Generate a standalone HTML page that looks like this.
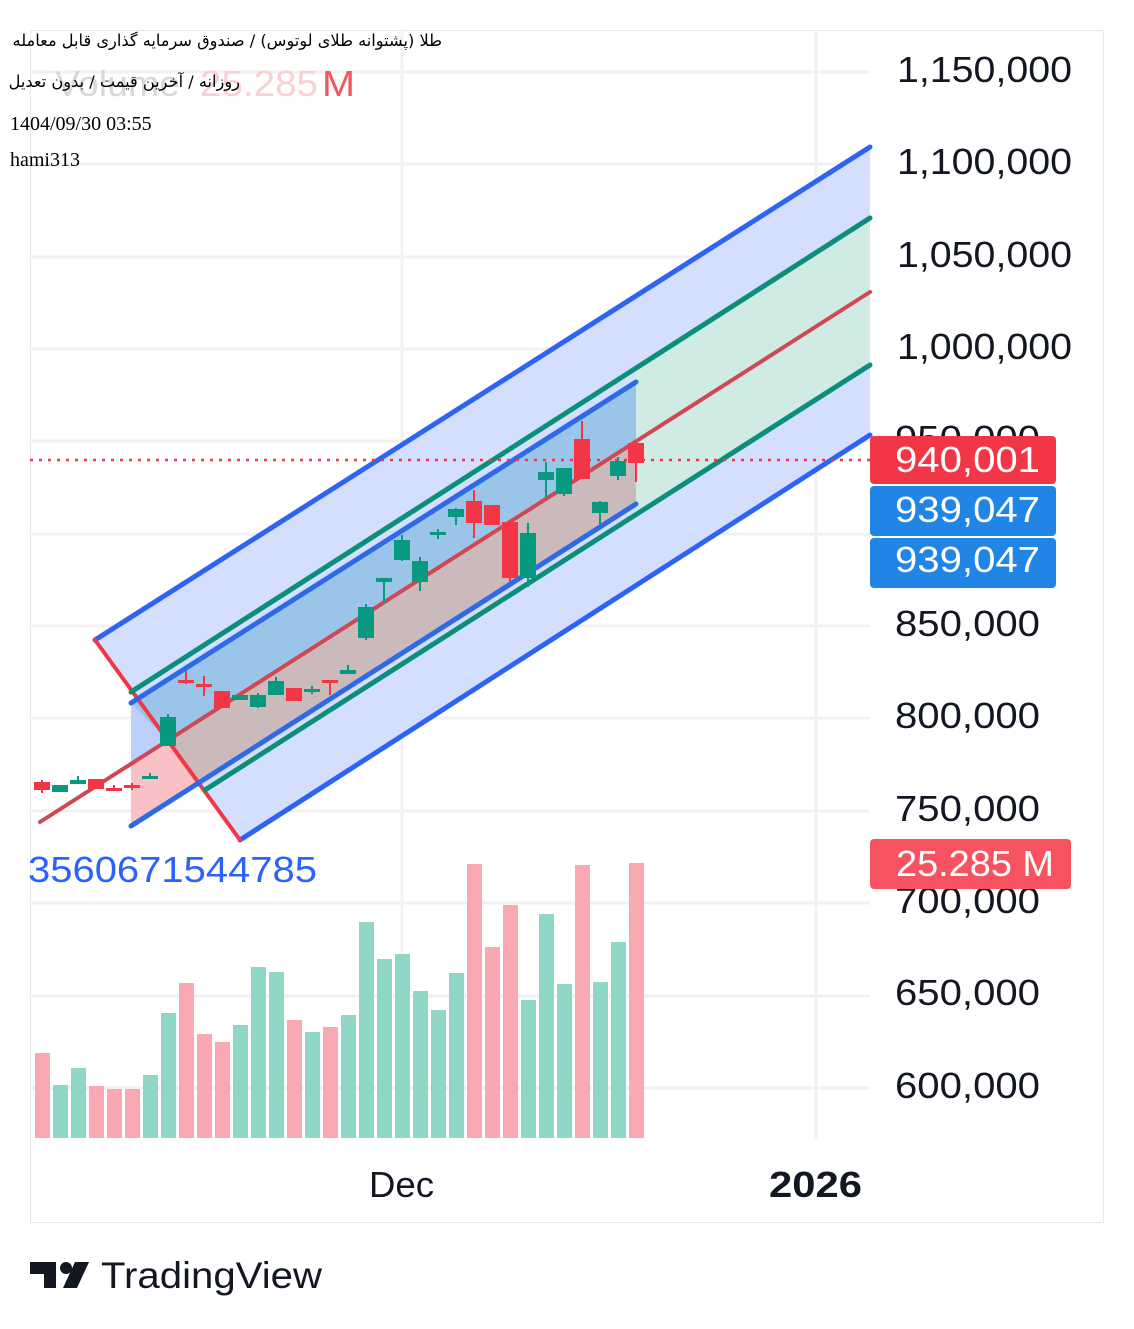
<!DOCTYPE html>
<html><head><meta charset="utf-8"><style>
body{margin:0;background:#fff;position:relative;width:1134px;height:1329px;overflow:hidden;}
svg{display:block;position:absolute;left:0;top:0;}
.ax{font-family:"Liberation Sans",sans-serif;font-size:36px;fill:#131722;}
.hd{font-family:"Liberation Serif","Noto Sans CJK SC",serif;font-size:20px;fill:#000;}
.fa{position:absolute;font-family:"DejaVu Sans","Liberation Sans",sans-serif;font-size:16.2px;color:#000;direction:rtl;text-align:right;white-space:nowrap;}
</style></head><body>
<svg width="1134" height="1329" viewBox="0 0 1134 1329">
<rect width="1134" height="1329" fill="#fff"/>
<rect x="30.5" y="30.5" width="1073" height="1192" fill="none" stroke="#e6e7ea"/>
<g stroke="#f0f1f3" stroke-width="3">
<line x1="30" y1="72" x2="870" y2="72"/><line x1="30" y1="164" x2="870" y2="164"/>
<line x1="30" y1="257" x2="870" y2="257"/><line x1="30" y1="349" x2="870" y2="349"/>
<line x1="30" y1="441" x2="870" y2="441"/><line x1="30" y1="534" x2="870" y2="534"/>
<line x1="30" y1="626" x2="870" y2="626"/><line x1="30" y1="718" x2="870" y2="718"/>
<line x1="30" y1="811" x2="870" y2="811"/><line x1="30" y1="903" x2="870" y2="903"/>
<line x1="30" y1="996" x2="870" y2="996"/><line x1="30" y1="1088" x2="870" y2="1088"/>
<line x1="402" y1="30" x2="402" y2="1140"/><line x1="816" y1="30" x2="816" y2="1140"/>
</g>
<text x="55" y="96" font-family="Liberation Sans,sans-serif" font-size="36" fill="#d7d8dc" textLength="125" lengthAdjust="spacingAndGlyphs">Volume</text>
<text x="200" y="96" font-family="Liberation Sans,sans-serif" font-size="36" fill="#fbd0d4" textLength="118" lengthAdjust="spacingAndGlyphs">25.285</text>
<text x="322" y="96" font-family="Liberation Sans,sans-serif" font-size="36" fill="#f7525f" textLength="33" lengthAdjust="spacingAndGlyphs">M</text>
<g fill="#8fd6c6">
<rect x="53" y="1085" width="15" height="53"/><rect x="71" y="1068" width="15" height="70"/>
<rect x="143" y="1075" width="15" height="63"/><rect x="161" y="1013" width="15" height="125"/>
<rect x="233" y="1025" width="15" height="113"/><rect x="251" y="967" width="15" height="171"/>
<rect x="269" y="972" width="15" height="166"/><rect x="305" y="1032" width="15" height="106"/>
<rect x="341" y="1015" width="15" height="123"/><rect x="359" y="922" width="15" height="216"/>
<rect x="377" y="959" width="15" height="179"/><rect x="395" y="954" width="15" height="184"/>
<rect x="413" y="991" width="15" height="147"/><rect x="431" y="1010" width="15" height="128"/>
<rect x="449" y="973" width="15" height="165"/><rect x="521" y="1000" width="15" height="138"/>
<rect x="539" y="914" width="15" height="224"/><rect x="557" y="984" width="15" height="154"/>
<rect x="593" y="982" width="15" height="156"/><rect x="611" y="942" width="15" height="196"/>
</g>
<g fill="#f9a9b1">
<rect x="35" y="1053" width="15" height="85"/><rect x="89" y="1086" width="15" height="52"/>
<rect x="107" y="1089" width="15" height="49"/><rect x="125" y="1089" width="15" height="49"/>
<rect x="179" y="983" width="15" height="155"/><rect x="197" y="1034" width="15" height="104"/>
<rect x="215" y="1042" width="15" height="96"/><rect x="287" y="1020" width="15" height="118"/>
<rect x="323" y="1027" width="15" height="111"/><rect x="467" y="864" width="15" height="274"/>
<rect x="485" y="947" width="15" height="191"/><rect x="503" y="905" width="15" height="233"/>
<rect x="575" y="865" width="15" height="273"/><rect x="629" y="863" width="15" height="275"/>
</g>
<polygon points="95,640 870,147 870,435 240,840" fill="#d4defd"/>
<polygon points="636,368 870,218 870,365 636,515" fill="#d0ebe4"/>
<polygon points="131,703 636,382 636,441 167.8,740.4 131,764" fill="#9bc5e8"/>
<polygon points="131,703 167.8,740.4 131,764" fill="#bcd0fb"/>
<polygon points="167.8,740.4 636,441 636,504 198.6,782.9" fill="#cbbabb"/>
<polygon points="131,764 167.8,740.4 198.6,782.9 131,826" fill="#f9c1c6"/>
<g stroke-linecap="round" fill="none">
<line x1="95" y1="640" x2="870" y2="147" stroke="#2f63f5" stroke-width="5"/>
<line x1="240" y1="840" x2="870" y2="435" stroke="#2f63f5" stroke-width="5"/>
<line x1="95" y1="640" x2="240" y2="840" stroke="#f23645" stroke-width="4"/>
<line x1="131" y1="692" x2="870" y2="218" stroke="#0b8f7b" stroke-width="5"/>
<line x1="205" y1="790" x2="870" y2="365" stroke="#0b8f7b" stroke-width="5"/>
<line x1="40" y1="822" x2="870" y2="292" stroke="#d04852" stroke-width="4"/>
<line x1="131" y1="703" x2="636" y2="382" stroke="#2e6ae8" stroke-width="5"/>
<line x1="131" y1="826" x2="636" y2="504" stroke="#2e6ae8" stroke-width="5"/>
</g>
<line x1="30" y1="460" x2="870" y2="460" stroke="#f23645" stroke-width="2.5" stroke-dasharray="3,6"/>
<g fill="#089981" stroke="#089981" stroke-width="2">
<rect x="53" y="786" width="14" height="5"/>
<line x1="78" y1="776" x2="78" y2="783"/><rect x="71" y="781" width="14" height="2"/>
<line x1="150" y1="773" x2="150" y2="779"/><rect x="143" y="777" width="14" height="1"/>
<line x1="168" y1="714" x2="168" y2="746"/><rect x="161" y="718" width="14" height="27"/>
<rect x="233" y="696" width="14" height="3"/>
<line x1="258" y1="693" x2="258" y2="708"/><rect x="251" y="696" width="14" height="10"/>
<line x1="276" y1="677" x2="276" y2="694"/><rect x="269" y="682" width="14" height="12"/>
<line x1="312" y1="686" x2="312" y2="694"/><rect x="305" y="690" width="14" height="1"/>
<line x1="348" y1="665" x2="348" y2="674"/><rect x="341" y="671" width="14" height="2"/>
<line x1="366" y1="604" x2="366" y2="640"/><rect x="359" y="608" width="14" height="29"/>
<line x1="384" y1="580" x2="384" y2="603"/><rect x="377" y="579" width="14" height="2"/>
<line x1="402" y1="535" x2="402" y2="561"/><rect x="395" y="541" width="14" height="18"/>
<line x1="420" y1="557" x2="420" y2="591"/><rect x="413" y="562" width="14" height="19"/>
<line x1="438" y1="529" x2="438" y2="539"/><rect x="431" y="533" width="14" height="1"/>
<line x1="456" y1="508" x2="456" y2="525"/><rect x="449" y="510" width="14" height="6"/>
<line x1="528" y1="523" x2="528" y2="587"/><rect x="521" y="534" width="14" height="43"/>
<line x1="546" y1="462" x2="546" y2="497"/><rect x="539" y="473" width="14" height="6"/>
<line x1="564" y1="468" x2="564" y2="496"/><rect x="557" y="469" width="14" height="24"/>
<line x1="600" y1="501" x2="600" y2="524"/><rect x="593" y="503" width="14" height="9"/>
<line x1="618" y1="457" x2="618" y2="480"/><rect x="611" y="462" width="14" height="13"/>
</g>
<g fill="#f23645" stroke="#f23645" stroke-width="2">
<line x1="42" y1="780" x2="42" y2="793"/><rect x="35" y="783" width="14" height="6"/>
<rect x="89" y="780" width="14" height="8"/>
<line x1="114" y1="785" x2="114" y2="790"/><rect x="107" y="789" width="14" height="1"/>
<line x1="132" y1="783" x2="132" y2="790"/><rect x="125" y="786" width="14" height="1"/>
<line x1="186" y1="671" x2="186" y2="684"/><rect x="179" y="681" width="14" height="1"/>
<line x1="204" y1="676" x2="204" y2="696"/><rect x="197" y="685" width="14" height="1"/>
<rect x="215" y="692" width="14" height="15"/>
<rect x="287" y="689" width="14" height="11"/>
<line x1="330" y1="681" x2="330" y2="695"/><rect x="323" y="681" width="14" height="1"/>
<line x1="474" y1="490" x2="474" y2="538"/><rect x="467" y="502" width="14" height="20"/>
<rect x="485" y="506" width="14" height="18"/>
<line x1="510" y1="523" x2="510" y2="582"/><rect x="503" y="523" width="14" height="54"/>
<line x1="582" y1="421" x2="582" y2="479"/><rect x="575" y="440" width="14" height="38"/>
<line x1="636" y1="444" x2="636" y2="482"/><rect x="629" y="444" width="14" height="18"/>
</g>
<text class="hd" x="10" y="130">1404/09/30 03:55</text>
<text class="hd" x="10" y="166">hami313</text>
<text x="28" y="882" font-family="Liberation Sans,sans-serif" font-size="36" fill="#2962ff" textLength="289" lengthAdjust="spacingAndGlyphs">3560671544785</text>
<g class="ax">
<text x="897" y="82" textLength="175" lengthAdjust="spacingAndGlyphs">1,150,000</text>
<text x="897" y="174" textLength="175" lengthAdjust="spacingAndGlyphs">1,100,000</text>
<text x="897" y="267" textLength="175" lengthAdjust="spacingAndGlyphs">1,050,000</text>
<text x="897" y="359" textLength="175" lengthAdjust="spacingAndGlyphs">1,000,000</text>
<text x="895" y="451" textLength="145" lengthAdjust="spacingAndGlyphs">950,000</text>
<text x="895" y="636" textLength="145" lengthAdjust="spacingAndGlyphs">850,000</text>
<text x="895" y="728" textLength="145" lengthAdjust="spacingAndGlyphs">800,000</text>
<text x="895" y="821" textLength="145" lengthAdjust="spacingAndGlyphs">750,000</text>
<text x="895" y="913" textLength="145" lengthAdjust="spacingAndGlyphs">700,000</text>
<text x="895" y="1005" textLength="145" lengthAdjust="spacingAndGlyphs">650,000</text>
<text x="895" y="1098" textLength="145" lengthAdjust="spacingAndGlyphs">600,000</text>
</g>
<rect x="870" y="436" width="186" height="48" rx="4" fill="#f23645"/>
<text x="895" y="472" font-family="Liberation Sans,sans-serif" font-size="36" fill="#fff" textLength="145" lengthAdjust="spacingAndGlyphs">940,001</text>
<rect x="870" y="486" width="186" height="50" rx="4" fill="#2185e6"/>
<text x="895" y="522" font-family="Liberation Sans,sans-serif" font-size="36" fill="#fff" textLength="145" lengthAdjust="spacingAndGlyphs">939,047</text>
<rect x="870" y="538" width="186" height="50" rx="4" fill="#2185e6"/>
<text x="895" y="572" font-family="Liberation Sans,sans-serif" font-size="36" fill="#fff" textLength="145" lengthAdjust="spacingAndGlyphs">939,047</text>
<rect x="870" y="839" width="201" height="50" rx="4" fill="#f7525f"/>
<text x="896" y="876" font-family="Liberation Sans,sans-serif" font-size="36" fill="#fff" textLength="158" lengthAdjust="spacingAndGlyphs">25.285 M</text>
<text x="369" y="1197" class="ax" textLength="65" lengthAdjust="spacingAndGlyphs">Dec</text>
<text x="769" y="1197" class="ax" font-weight="bold" textLength="93" lengthAdjust="spacingAndGlyphs">2026</text>
<g fill="#131722">
<path d="M30 1262h26v26h-12v-14h-14z"/>
<circle cx="66" cy="1268" r="6"/>
<path d="M75 1262h14l-12 26h-14z"/>
</g>
<text x="101" y="1288" font-family="Liberation Sans,sans-serif" font-size="37" fill="#131722" textLength="221" lengthAdjust="spacingAndGlyphs">TradingView</text>
</svg>
<div class="fa" style="right:692px;top:31px;">طلا (پشتوانه طلای لوتوس) / صندوق سرمایه گذاری قابل معامله</div>
<div class="fa" style="right:894px;top:72px;">روزانه / آخرین قیمت / بدون تعدیل</div>
</body></html>
